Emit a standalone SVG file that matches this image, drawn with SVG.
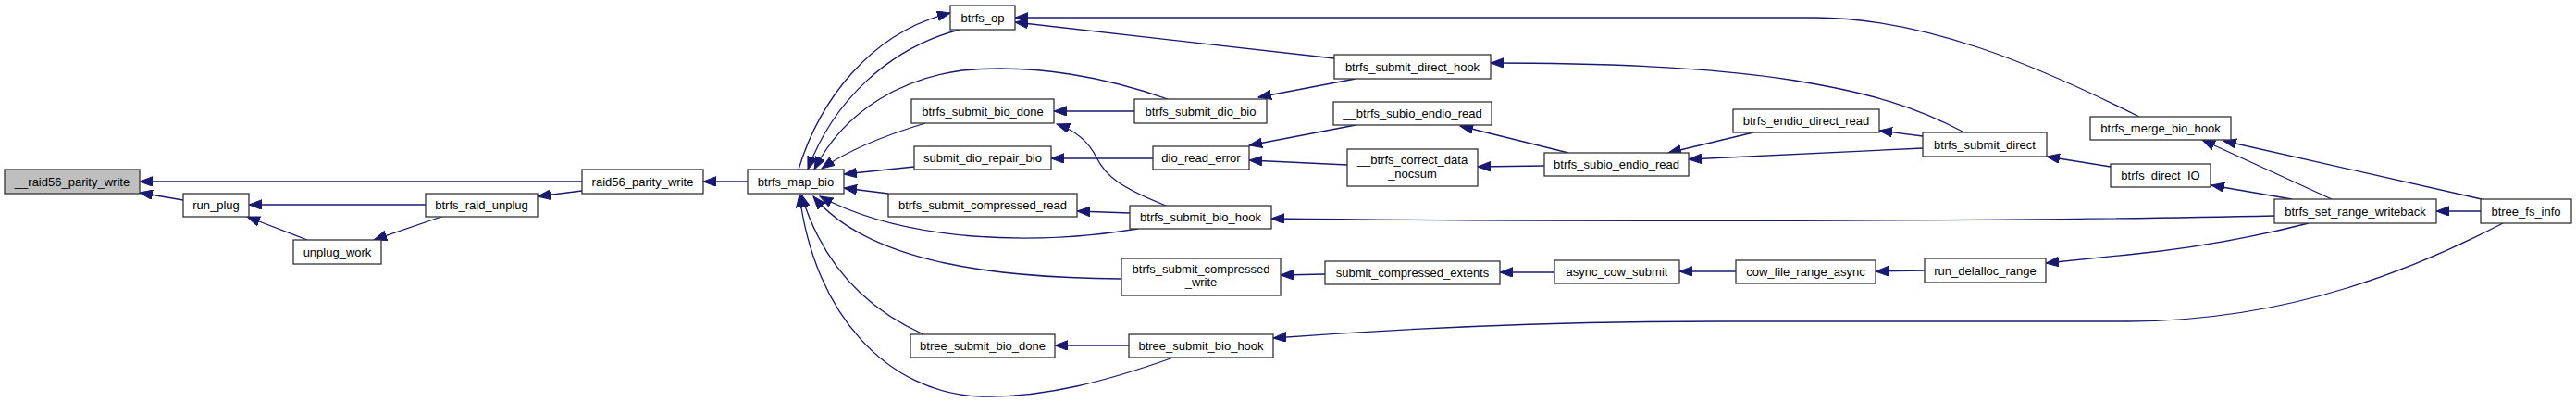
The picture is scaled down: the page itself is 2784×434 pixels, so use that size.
<svg xmlns="http://www.w3.org/2000/svg" width="2784" height="434" viewBox="0 0 2784 434">
<style>
.n rect{fill:#ffffff;stroke:#333333;stroke-width:1.3}
.n.hl rect{fill:#bfbfbf}
.n text{font-family:"Liberation Sans",Arial,sans-serif;font-size:13px;fill:#000000;text-anchor:middle}
.e path{fill:none;stroke:#191970;stroke-width:1.3;marker-end:url(#ah)}
</style>
<defs>
<marker id="ah" markerUnits="userSpaceOnUse" markerWidth="15" markerHeight="11" refX="14" refY="5.3" orient="auto">
<path d="M0,0 L14,5.3 L0,10.6 z" fill="#191970" stroke="#191970" stroke-width="1"/>
</marker>
</defs>
<rect width="2784" height="434" fill="#ffffff"/>
<g id="edges" class="e">
<path d="M629,196 L151,196"/>
<path d="M198,216 L151,208"/>
<path d="M460,221 L269,221"/>
<path d="M332,259 L267,234"/>
<path d="M480,233 L404,259"/>
<path d="M629,206 L581,212"/>
<path d="M808,196 L760,196"/>
<path d="M863,183 C885,110 940,35 1027,14"/>
<path d="M1037,32 C960,52 900,110 873,183"/>
<path d="M1262,107 C1200,85 1120,68 1040,76 C980,84 915,115 880,183"/>
<path d="M1000,133 C960,145 920,160 888,182"/>
<path d="M988,180 L912,188"/>
<path d="M960,209 L912,203"/>
<path d="M1230,247 C1120,265 980,262 886,212"/>
<path d="M1212,301 C1080,300 940,285 879,212"/>
<path d="M998,361 C940,335 890,290 866,210"/>
<path d="M1268,386 C1200,410 1130,430 1060,428 C960,425 880,340 864,210"/>
<path d="M1226,120 L1139,120"/>
<path d="M1260,222 C1210,202 1195,190 1185,170 C1175,150 1160,140 1142,134"/>
<path d="M1246,171 L1136,171"/>
<path d="M1221,230 L1164,228"/>
<path d="M1432,296 L1384,297"/>
<path d="M1220,373 L1140,373"/>
<path d="M1442,63 L1097,24"/>
<path d="M2312,126 C2200,70 2080,19 1960,19 L1097,19"/>
<path d="M2123,143 C2070,115 2020,100 1940,87 C1860,74 1760,68 1611,68"/>
<path d="M1465,85 L1360,105"/>
<path d="M1465,135 L1350,157"/>
<path d="M1456,178 L1350,173"/>
<path d="M1695,165 L1578,136"/>
<path d="M1669,179 L1597,180"/>
<path d="M1895,143 L1803,165"/>
<path d="M2078,160 L1825,172"/>
<path d="M2078,147 L2031,141"/>
<path d="M2281,180 L2212,169"/>
<path d="M2477,215 L2390,200"/>
<path d="M2520,215 L2380,151"/>
<path d="M2682,215 L2403,152"/>
<path d="M2681,228 L2633,228"/>
<path d="M2458,233 C2200,239 1700,240 1374,236"/>
<path d="M2495,241 C2440,255 2370,268 2300,275 L2211,284"/>
<path d="M2705,241 C2620,285 2480,347 2300,347 L1860,347 C1700,347 1550,352 1376,365"/>
<path d="M2080,292 L2027,293"/>
<path d="M1876,293 L1815,293"/>
<path d="M1680,294 L1621,294"/>
</g>
<g id="n0" class="n hl"><rect x="5" y="183" width="146" height="26"/><text x="78" y="200.5">__raid56_parity_write</text></g>
<g id="n1" class="n"><rect x="198" y="209" width="71" height="25"/><text x="233.5" y="226">run_plug</text></g>
<g id="n2" class="n"><rect x="317" y="259" width="95" height="26"/><text x="364.5" y="276.5">unplug_work</text></g>
<g id="n3" class="n"><rect x="460" y="209" width="121" height="25"/><text x="520.5" y="226">btrfs_raid_unplug</text></g>
<g id="n4" class="n"><rect x="629" y="183" width="131" height="26"/><text x="694.5" y="200.5">raid56_parity_write</text></g>
<g id="n5" class="n"><rect x="808" y="183" width="104" height="26"/><text x="860" y="200.5">btrfs_map_bio</text></g>
<g id="n6" class="n"><rect x="1027" y="6" width="70" height="26"/><text x="1062" y="23.5">btrfs_op</text></g>
<g id="n7" class="n"><rect x="985" y="107" width="154" height="26"/><text x="1062" y="124.5">btrfs_submit_bio_done</text></g>
<g id="n8" class="n"><rect x="988" y="158" width="148" height="25"/><text x="1062" y="175">submit_dio_repair_bio</text></g>
<g id="n9" class="n"><rect x="960" y="209" width="204" height="25"/><text x="1062" y="226">btrfs_submit_compressed_read</text></g>
<g id="n10" class="n"><rect x="1212" y="279" width="172" height="40"/><text x="1298" y="295">btrfs_submit_compressed</text><text x="1298" y="309">_write</text></g>
<g id="n11" class="n"><rect x="984" y="361" width="156" height="25"/><text x="1062" y="378">btree_submit_bio_done</text></g>
<g id="n12" class="n"><rect x="1226" y="107" width="143" height="26"/><text x="1297.5" y="124.5">btrfs_submit_dio_bio</text></g>
<g id="n13" class="n"><rect x="1246" y="158" width="104" height="25"/><text x="1298" y="175">dio_read_error</text></g>
<g id="n14" class="n"><rect x="1221" y="222" width="153" height="25"/><text x="1297.5" y="239">btrfs_submit_bio_hook</text></g>
<g id="n15" class="n"><rect x="1220" y="361" width="156" height="25"/><text x="1298" y="378">btree_submit_bio_hook</text></g>
<g id="n16" class="n"><rect x="1442" y="59" width="169" height="26"/><text x="1526.5" y="76.5">btrfs_submit_direct_hook</text></g>
<g id="n17" class="n"><rect x="1441" y="110" width="171" height="25"/><text x="1526.5" y="127">__btrfs_subio_endio_read</text></g>
<g id="n18" class="n"><rect x="1456" y="161" width="141" height="40"/><text x="1526.5" y="177">__btrfs_correct_data</text><text x="1526.5" y="192">_nocsum</text></g>
<g id="n19" class="n"><rect x="1432" y="282" width="189" height="25"/><text x="1526.5" y="299">submit_compressed_extents</text></g>
<g id="n20" class="n"><rect x="1669" y="165" width="156" height="25"/><text x="1747" y="182">btrfs_subio_endio_read</text></g>
<g id="n21" class="n"><rect x="1680" y="281" width="135" height="25"/><text x="1747.5" y="298">async_cow_submit</text></g>
<g id="n22" class="n"><rect x="1873" y="118" width="158" height="25"/><text x="1952" y="135">btrfs_endio_direct_read</text></g>
<g id="n23" class="n"><rect x="1876" y="281" width="151" height="25"/><text x="1951.5" y="298">cow_file_range_async</text></g>
<g id="n24" class="n"><rect x="2078" y="143" width="134" height="26"/><text x="2145" y="160.5">btrfs_submit_direct</text></g>
<g id="n25" class="n"><rect x="2080" y="279" width="131" height="26"/><text x="2145.5" y="296.5">run_delalloc_range</text></g>
<g id="n26" class="n"><rect x="2259" y="126" width="152" height="25"/><text x="2335" y="143">btrfs_merge_bio_hook</text></g>
<g id="n27" class="n"><rect x="2281" y="177" width="108" height="25"/><text x="2335" y="194">btrfs_direct_IO</text></g>
<g id="n28" class="n"><rect x="2458" y="215" width="175" height="26"/><text x="2545.5" y="232.5">btrfs_set_range_writeback</text></g>
<g id="n29" class="n"><rect x="2681" y="215" width="98" height="26"/><text x="2730" y="232.5">btree_fs_info</text></g>
</svg>
